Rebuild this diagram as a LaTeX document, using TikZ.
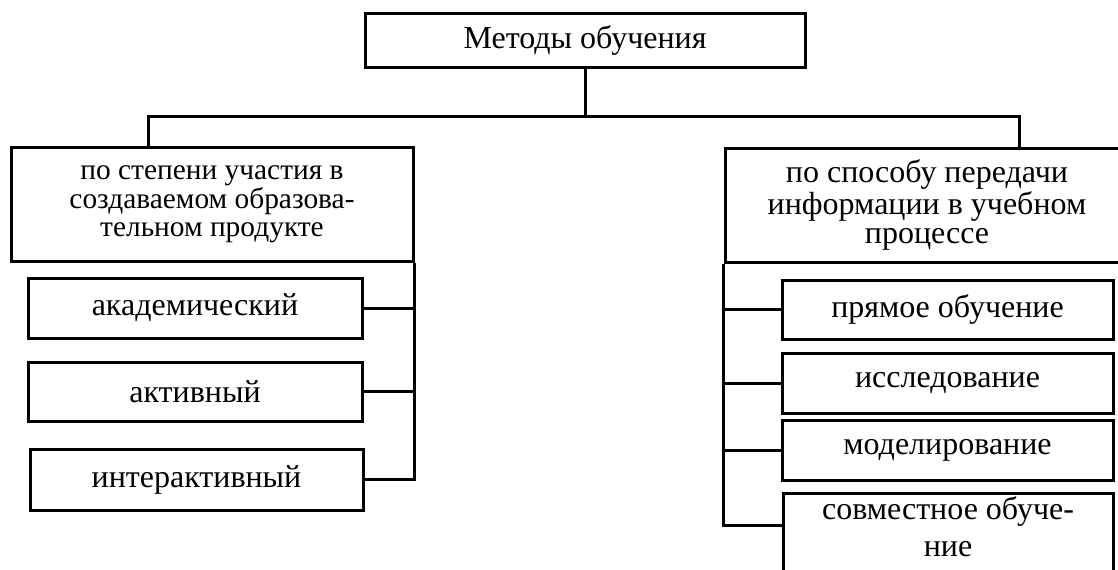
\documentclass[tikz,border=0pt]{standalone}
\usepackage{fontspec}
\setmainfont{Liberation Serif}
\usetikzlibrary{positioning}

\begin{document}
\begin{tikzpicture}[x=0.5pt,y=-0.5pt,
  box/.style={draw,line width=1.5pt,align=center,inner sep=0pt,
    font=\fontsize{16pt}{14.5pt}\selectfont},
  line/.style={line width=1.5pt}]
\useasboundingbox (0,0) rectangle (1118,569);

\node[box,minimum width=220pt,minimum height=27pt] (0) at (585,40){Методы обучения};
\node[box,minimum width=201pt,minimum height=57pt,font=\fontsize{14.7pt}{13.6pt}\selectfont] (1) at (212,204){по степени участия в\\создаваемом образова-\\тельном продукте};
\node[box,minimum width=202pt,minimum height=57pt] (2) at (927,205){по способу передачи\\информации в учебном\\процессе};
\node[box,minimum width=167pt,minimum height=30pt] (3) at (195,308){академический};
\node[box,minimum width=167pt,minimum height=29.5pt] (4) at (195,391.5){активный};
\node[box,minimum width=166.5pt,minimum height=30.5pt] (5) at (196.5,479.5){интерактивный};
\node[box,minimum width=165.5pt,minimum height=29.5pt] (6) at (947.5,309.5){прямое обучение};
\node[box,minimum width=165.5pt,minimum height=30pt] (7) at (947.5,383){исследование};
\node[box,minimum width=165.5pt,minimum height=30pt] (8) at (947.5,450){моделирование};
\node[box,minimum width=165pt,minimum height=41pt,text depth=7pt,font=\fontsize{16pt}{18.5pt}\selectfont] (9) at (948,534){совместное обуче-\\ние};
\coordinate (a) at (148,116);
\coordinate (b) at (1019,116);
\draw[line] (0) -- (0 |- a);
\draw[line] (a |- 1.north) -- (a) -- (b) -- (b |- 2.north);
\draw[line] (1.south east) -- (1.south east |- 5.east) -- (5.east);
\draw[line] (3) -- (3 -| 1.south east);
\draw[line] (4) -- (4 -| 1.south east);
\draw[line] (2.south west) |- ([yshift=4.5pt]9.west);
\draw[line] (6) -- (6 -| 2.south west);
\draw[line] (7) -- (7 -| 2.south west);
\draw[line] (8) -- (8 -| 2.south west);

\end{tikzpicture}
\end{document}
